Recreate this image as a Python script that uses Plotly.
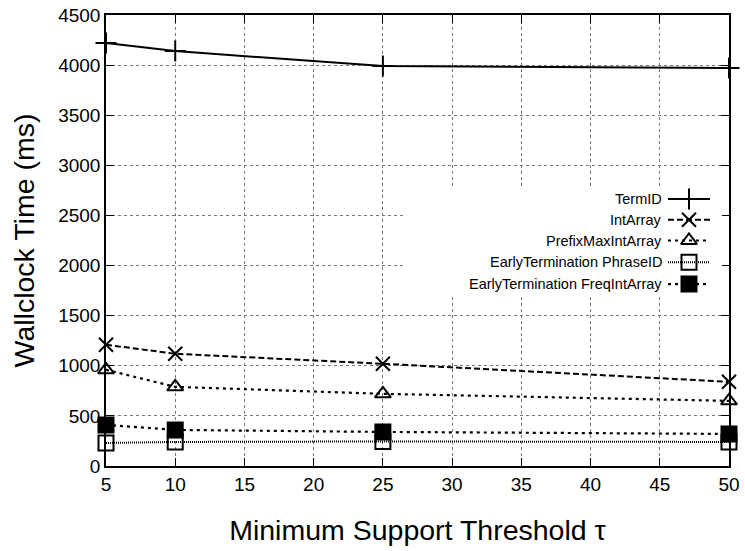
import plotly.graph_objects as go

x_vals = [5, 10, 25, 50]
term_id = [4220, 4140, 3990, 3970]
int_array = [1210, 1120, 1020, 840]
prefix_max = [960, 790, 720, 650]
et_phrase = [230, 240, 245, 240]
et_freq = [410, 360, 340, 320]

names = ["TermID", "IntArray", "PrefixMaxIntArray",
         "EarlyTermination PhraseID", "EarlyTermination FreqIntArray"]
series = [term_id, int_array, prefix_max, et_phrase, et_freq]
dashes = ["solid", "6px,3px", "3px,4px", "1px,1px", "3px,4px"]
symbols = ["cross-thin-open", "x-thin-open", "triangle-up-open", "square-open", "square"]
sizes = [15, 14, 14, 15, 15]
widths = [2, 2, 2.2, 2, 2.2]

fig = go.Figure()
for nm, ys, d, s, sz, w in zip(names, series, dashes, symbols, sizes, widths):
    fig.add_trace(go.Scatter(
        x=x_vals, y=ys, mode="lines+markers", name=nm, showlegend=False,
        line=dict(color="black", width=w, dash=d),
        marker=dict(symbol=s, size=sz, color="black",
                    line=dict(color="black", width=2)),
        cliponaxis=False))

# manual legend (text on left, sample on right, gnuplot style)
L_X0, L_X1, L_Y0, L_Y1 = 405, 722, 186, 295
leg_y = [0.88, 0.69, 0.50, 0.30, 0.10]
px = lambda p: (p - L_X0) / (L_X1 - L_X0)
for nm, yy, d, s, sz, w in zip(names, leg_y, dashes, symbols, sizes, widths):
    fig.add_trace(go.Scatter(
        x=[px(668), px(710)], y=[yy, yy], mode="lines", xaxis="x2", yaxis="y2",
        showlegend=False, hoverinfo="skip", cliponaxis=False,
        line=dict(color="black", width=w, dash=d)))
    fig.add_trace(go.Scatter(
        x=[px(689)], y=[yy], mode="markers", xaxis="x2", yaxis="y2",
        showlegend=False, hoverinfo="skip", cliponaxis=False,
        marker=dict(symbol=s, size=sz, color="black",
                    line=dict(color="black", width=2))))
    fig.add_annotation(x=px(664), y=yy, xref="x2", yref="y2", text=nm,
                       showarrow=False, xanchor="right", yanchor="middle",
                       font=dict(size=14.5, color="black"))

# white box behind legend covering the main grid
fig.add_shape(type="rect", xref="x2", yref="y2", x0=0, x1=1, y0=0, y1=1,
              fillcolor="white", line=dict(width=0), layer="below")

W, H = 745, 551
fig.update_layout(
    width=W, height=H,
    margin=dict(l=106, r=16, t=15, b=85),
    paper_bgcolor="white", plot_bgcolor="rgba(0,0,0,0)",
    font=dict(family="Liberation Sans, Arial, sans-serif", color="black"),
    xaxis=dict(range=[5, 50], tickmode="array", tickvals=list(range(5, 51, 5)),
               showgrid=True, gridcolor="#777", griddash="dot", gridwidth=1,
               showline=True, linecolor="black", linewidth=1.5, mirror="ticks",
               ticks="inside", ticklen=8, tickcolor="black", zeroline=False,
               tickfont=dict(size=19), automargin=False,
               title=dict(text="Minimum Support Threshold τ", font=dict(size=28.5), standoff=27)),
    yaxis=dict(range=[0, 4500], tickmode="array", tickvals=list(range(0, 4501, 500)),
               showgrid=True, gridcolor="#777", griddash="dot", gridwidth=1,
               showline=True, linecolor="black", linewidth=1.5, mirror="ticks",
               ticks="inside", ticklen=8, tickcolor="black", zeroline=False,
               tickfont=dict(size=19), automargin=False,
               title=dict(text="Wallclock Time (ms)", font=dict(size=28.5), standoff=15)),
    xaxis2=dict(domain=[(L_X0 - 106) / 623, (L_X1 - 106) / 623], range=[0, 1],
                visible=False, anchor="y2", fixedrange=True),
    yaxis2=dict(domain=[(466 - L_Y1) / 451, (466 - L_Y0) / 451], range=[0, 1],
                visible=False, anchor="x2", fixedrange=True),
)

fig.write_html("out.html")
